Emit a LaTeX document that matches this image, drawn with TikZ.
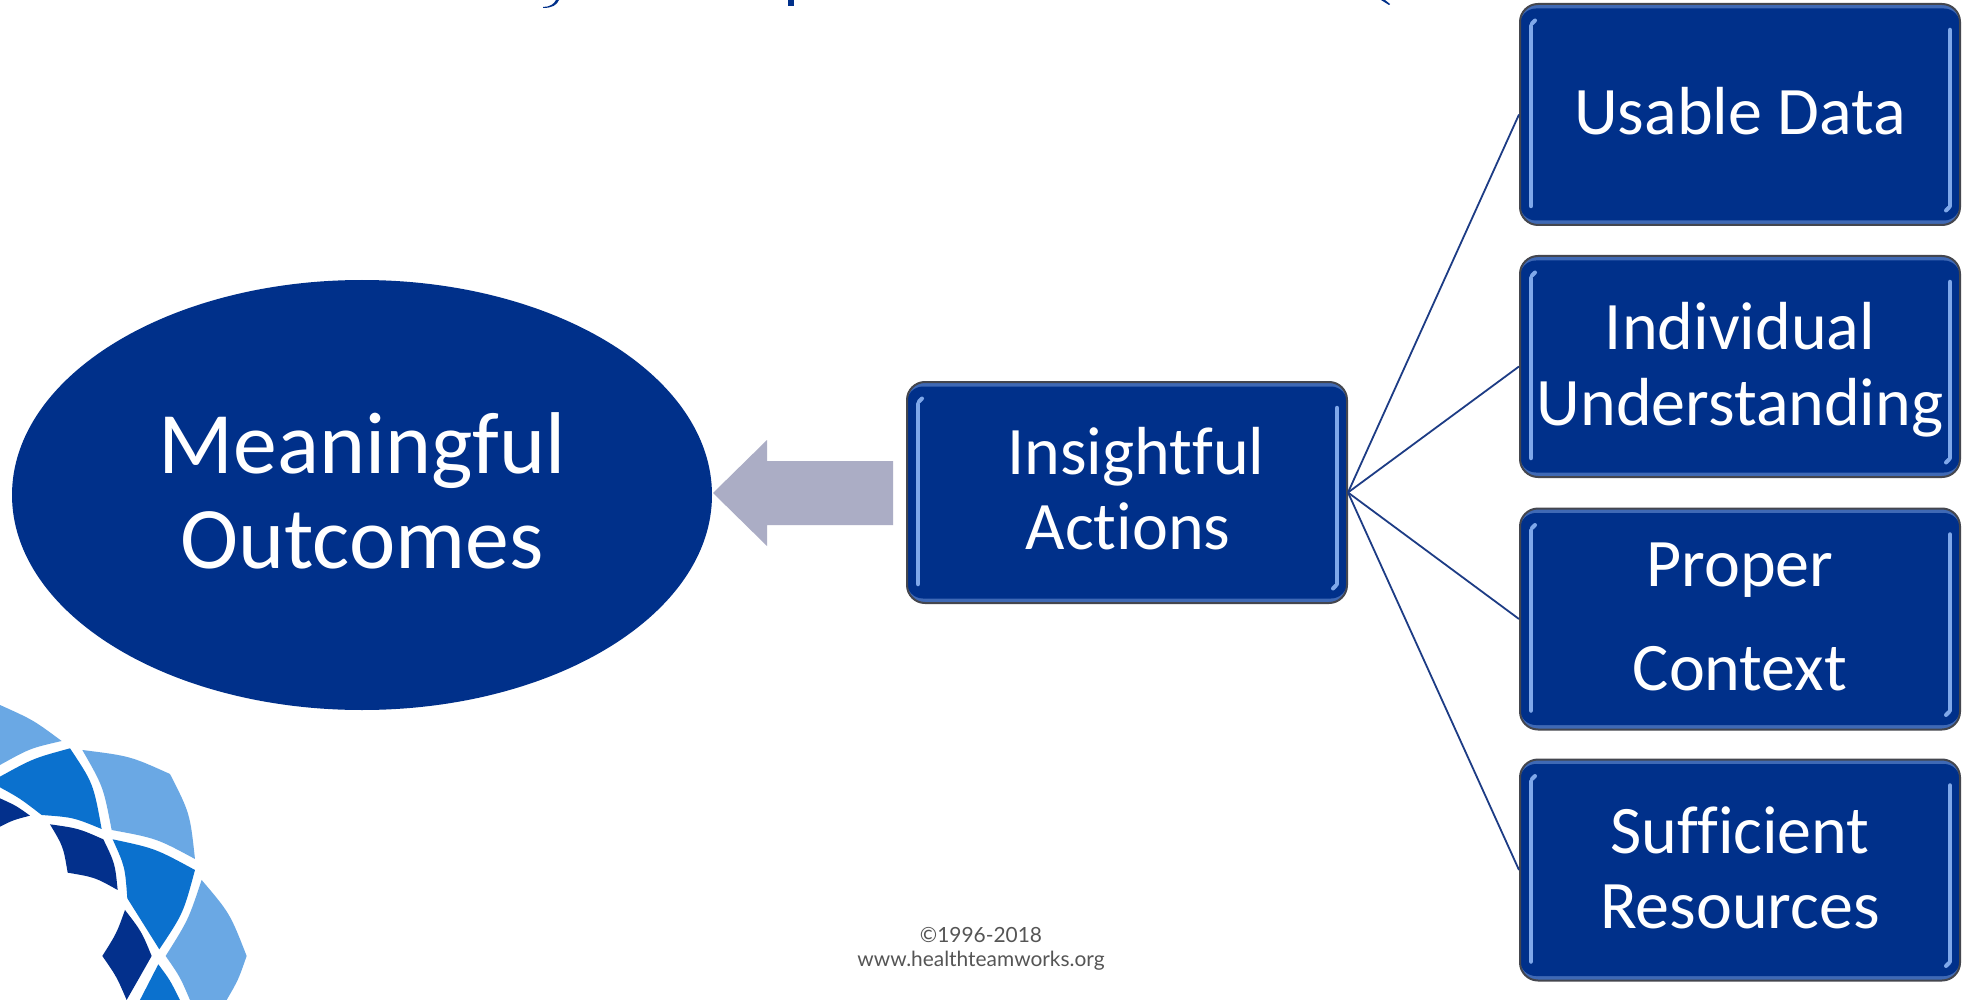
\documentclass[tikz,border=0pt]{standalone}
\usepackage{fontspec}
\setmainfont{Carlito}[Ligatures=NoCommon]
\newfontfamily\footfont{Lato}
\usetikzlibrary{shapes.geometric}
\definecolor{navy}{HTML}{00308A}
\definecolor{rimblue}{HTML}{3F69B5}
\definecolor{glint}{HTML}{7FA8EA}
\definecolor{rimgray}{HTML}{44464E}
\definecolor{arrowgray}{HTML}{ABADC5}
\definecolor{wire}{HTML}{1D3C85}
\definecolor{logolight}{HTML}{6AA8E4}
\definecolor{logomid}{HTML}{0B71CE}
\definecolor{logodark}{HTML}{03308C}
\definecolor{foot}{HTML}{555555}
% one line of text, placed by its baseline relative to the node centre
\newcommand{\tl}[3]{\rlap{\hspace{#1pt}\makebox[0pt]{\raisebox{-#2pt}[0pt][0pt]{#3}}}}
\tikzset{
  gloss/.style={
    rectangle, rounded corners=18pt, draw=rimgray, line width=2pt,
    fill=rimblue, minimum width=440pt, minimum height=221pt, inner sep=0pt,
    text=white, font=\fontsize{68}{72}\selectfont,
    path picture={
        \fill[navy, rounded corners=16pt] (-220,-106) rectangle (220,106);
        \draw[glint, line width=4.5pt, line cap=round] (-209,-88.5) -- (-209,91.5);
        \draw[glint, line width=4.5pt, line cap=round] (210,-84.5) -- (210,91.5);
        \draw[glint, line width=4pt, line cap=round] (-208,-91) -- (-205,-94);
        \draw[glint, line width=4pt, line cap=round] (206,96) -- (209,93);
    }},
  outcome/.style={ellipse, fill=navy, minimum width=700pt, minimum height=430pt,
    inner sep=0pt, text=white, font=\fontsize{87.7}{92}\selectfont},
  wirelink/.style={wire, line width=1.8pt},
  blockarrow/.style={fill=arrowgray},
  footnote/.style={inner sep=0pt, text=foot, font=\footfont\fontsize{20.9}{24}\selectfont}
}
\begin{document}
\begin{tikzpicture}[x=1pt,y=-1pt]
\useasboundingbox (0,0) rectangle (1971,1000);
\fill[white] (0,0) rectangle (1971,1000);
% clipped remnants of the title
\fill[navy] (543,7) .. controls (550,7) and (554,4) .. (556,0) -- (559,0) .. controls (557,5) and (552,8) .. (543,8) -- cycle;
\fill[navy] (788,0) rectangle (794,6);
\fill[navy] (1381,0) -- (1385,0) -- (1390,4) -- (1389,5) -- cycle;
% logo
\begin{scope}[shift={(0,680)},x=0.3333pt,y=-0.3333pt]
\fill[logolight] (0,75) .. controls (100,120) .. (185,183) .. controls (90,205) .. (0,255) -- cycle;
\fill[logomid] (0,290) .. controls (100,235) .. (210,205) .. controls (280,310) .. (305,447) .. controls (220,412) .. (125,405) .. controls (60,355) .. (0,322) -- cycle;
\fill[logodark] (0,355) .. controls (50,378) .. (90,407) .. controls (40,420) .. (0,440) -- cycle;
\fill[logolight] (247,210) .. controls (390,228) .. (510,282) .. controls (570,400) .. (585,537) .. controls (470,475) .. (335,450) .. controls (310,320) .. (247,210) -- cycle;
\fill[logodark] (150,433) .. controls (235,445) .. (310,478) .. controls (345,550) .. (353,630) .. controls (285,592) .. (203,578) .. controls (190,500) .. (150,433) -- cycle;
\fill[logomid] (338,478) .. controls (465,505) .. (585,570) .. controls (550,700) .. (478,808) .. controls (430,730) .. (382,655) .. controls (375,560) .. (338,478) -- cycle;
\fill[logolight] (605,600) .. controls (690,700) .. (740,828) .. controls (715,900) .. (680,960) -- (570,960) .. controls (540,890) .. (497,828) .. controls (565,720) .. (605,600) -- cycle;
\fill[logodark] (375,690) .. controls (425,755) .. (455,828) .. controls (420,890) .. (380,960) .. controls (350,890) .. (307,828) .. controls (350,760) .. (375,690) -- cycle;
\fill[logomid] (475,853) .. controls (510,900) .. (540,960) -- (420,960) .. controls (450,905) .. (475,853) -- cycle;
\end{scope}
% main shapes
\node[outcome] (outcomes) at (362,495) {\tl{0}{-21.5}{Meaningful}\tl{0}{73}{Outcomes}};
\fill[blockarrow] (713,493) -- (767,440) -- (767,461) -- (893,461) -- (893,525) -- (767,525) -- (767,546) -- cycle;
\node[gloss] (insight) at (1127,492.5) {\tl{9}{-18}{Insightful}\tl{1}{57}{Actions}};
\node[gloss] (usable) at (1740,114.5) {\tl{0}{20.5}{Usable Data}};
\node[gloss] (individual) at (1740,366.5) {\tl{0}{-16.5}{Individual}\tl{0}{59}{Understanding}};
\node[gloss] (proper) at (1740,619) {\tl{0}{-32.5}{Proper}\tl{0}{71}{Context}};
\node[gloss] (sufficient) at (1740,870) {\tl{0}{-17}{Sufficient}\tl{0}{58}{Resources}};
% connectors
\draw[wirelink] (insight.east) -- (usable.west);
\draw[wirelink] (insight.east) -- (individual.west);
\draw[wirelink] (insight.east) -- (proper.west);
\draw[wirelink] (insight.east) -- (sufficient.west);
% footer
\node[footnote] (credit) at (981,950) {\tl{0}{-8}{©1996-2018}\tl{0}{16}{www.healthteamworks.org}};
\end{tikzpicture}
\end{document}
